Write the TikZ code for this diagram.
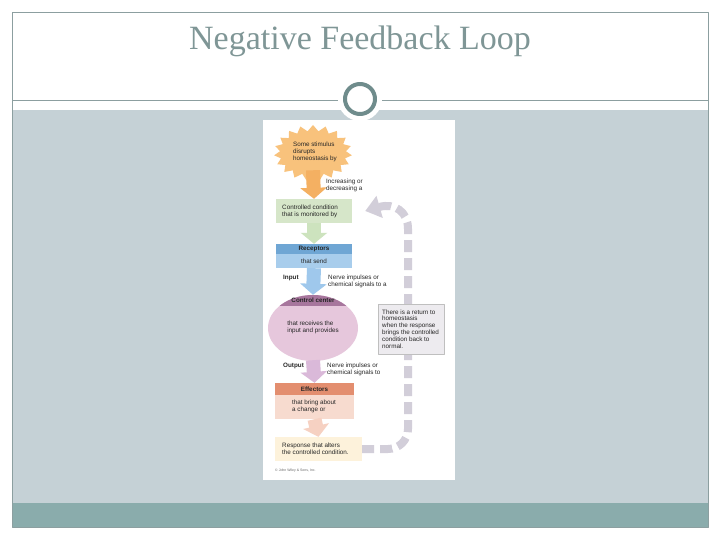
\documentclass[tikz,border=0pt]{standalone}
\usepackage{fontspec}
\setmainfont{Liberation Sans}
\newfontfamily\titlefont{Liberation Serif}
\usetikzlibrary{shapes.symbols,shapes.geometric,arrows.meta}
\definecolor{framec}{HTML}{8C9FA0}
\definecolor{slate}{HTML}{C5D1D6}
\definecolor{band}{HTML}{8AACAC}
\definecolor{ring}{HTML}{6F8C8C}
\definecolor{titlec}{HTML}{7F9696}
\definecolor{starc}{HTML}{F8C27C}
\definecolor{orangea}{HTML}{F4B062}
\definecolor{condc}{HTML}{D6E6C9}
\definecolor{greena}{HTML}{CDE3BE}
\definecolor{recdark}{HTML}{6FA6D4}
\definecolor{reclight}{HTML}{A8CDEC}
\definecolor{bluea}{HTML}{9FC8EC}
\definecolor{ccdark}{HTML}{A7769D}
\definecolor{cclight}{HTML}{E6C7DC}
\definecolor{purplea}{HTML}{DAB9D9}
\definecolor{effdark}{HTML}{E38E6F}
\definecolor{efflight}{HTML}{F7DBCF}
\definecolor{peacha}{HTML}{F6D1C2}
\definecolor{respc}{HTML}{FDF2DB}
\definecolor{loopc}{HTML}{D2CED9}
\definecolor{notec}{HTML}{EDEBEF}
\begin{document}
\begin{tikzpicture}[x=1pt,y=1pt,line join=round,
  txt/.style={font=\fontsize{6.3}{6.9}\selectfont,text=black!85,inner sep=0pt,align=left},
  head/.style={txt,font=\fontsize{6.3}{6.9}\selectfont\bfseries},
  box/.style={rectangle,inner sep=0pt,minimum width=#1},
  banded/.style n args={3}{fill=#2,path picture={\fill[#1] (path picture bounding box.north west) rectangle ([yshift=-#3]path picture bounding box.north east);}},
  flow/.style={draw=#1,line width=14pt,-{Triangle[width=26pt,length=11pt]}},
  feedback/.style={draw=loopc,line width=8pt,dash pattern=on 12pt off 6pt,-{Triangle[width=22pt,length=15pt]}}]
\useasboundingbox (0,0) rectangle (720,-540);
\fill[white] (0,0) rectangle (720,-540);
\fill[slate] (12,-110) rectangle (708,-503);
\fill[band] (12,-503) rectangle (708,-527);
\draw[framec] (12,-12) rectangle (708,-527);
\draw[framec] (12,-100) -- (708,-100);
\fill[white] (360,-99) circle (22);
\draw[ring,line width=4pt] (360,-99) circle (15);
\node[font=\titlefont\fontsize{34}{40}\selectfont,text=titlec] (title) at (360,-41) {Negative Feedback Loop};
\fill[white] (263,-120) rectangle (455,-480);

\node[starburst,starburst points=19,starburst point height=6pt,random starburst=0,fill=starc,minimum width=78pt,minimum height=56pt] (stim) at (313,-153) {};
\node[txt] (stimtxt) at (315,-152) {Some stimulus\\disrupts\\homeostasis by};
\node[box=76pt,fill=condc,minimum height=24pt] (cond) at (314,-211) {};
\node[txt,anchor=west] (condtxt) at (282,-211) {Controlled condition\\that is monitored by};
\node[box=76pt,banded={recdark}{reclight}{10pt},minimum height=24pt] (rec) at (314,-256) {};
\node[head] (rechead) at (314,-249) {Receptors};
\node[txt] (rectxt) at (314,-261) {that send};
\node[ellipse,inner sep=0pt,minimum width=90pt,minimum height=66pt,banded={ccdark}{cclight}{11pt}] (cc) at (313,-328) {};
\node[head] (cchead) at (313,-300.5) {Control center};
\node[txt] (cctxt) at (313,-327.5) {that receives the\\input and provides};
\node[box=79pt,banded={effdark}{efflight}{12pt},minimum height=36pt] (eff) at (314.5,-401) {};
\node[head] (effhead) at (314.5,-389) {Effectors};
\node[txt,anchor=west] (efftxt) at (292,-406) {that bring about\\a change or};
\node[box=87pt,fill=respc,minimum height=24pt] (resp) at (318.5,-449) {};
\node[txt,anchor=west] (resptxt) at (282,-449) {Response that alters\\the controlled condition.};
\node[txt,anchor=west,font=\fontsize{3.5}{4}\selectfont,text=black!60] (copy) at (275,-471) {© John Wiley \& Sons, Inc.};

\draw[flow=orangea] ([yshift=5pt]stim.south) -- (cond.north);
\draw[flow=greena] (cond.south) -- (rec.north);
\draw[flow=bluea] (rec.south) -- (cc.north);
\draw[flow=purplea] ([yshift=1pt]cc.south) -- (eff.north);
\draw[flow=peacha] (eff.south) -- (resp.north);

\node[txt,anchor=west] (incr) at (326,-185) {Increasing or\\decreasing a};
\node[head,anchor=west] (input) at (283,-278) {Input};
\node[txt,anchor=west] (signal) at (328,-281.5) {Nerve impulses or\\chemical signals to a};
\node[head,anchor=west] (output) at (283,-366) {Output};
\node[txt,anchor=west] (signalb) at (327,-369.5) {Nerve impulses or\\chemical signals to};

\coordinate (fbx) at (408,0);
\draw[feedback,rounded corners=20pt] (resp.east) -- (fbx |- resp.east) [rounded corners=30pt] -- (fbx |- cond.north) -- ([xshift=13pt]cond.east);
\node[draw=black!25,fill=notec,inner sep=0pt,minimum width=66pt,minimum height=50pt] (note) at (411,-329) {};
\node[txt,anchor=west] (notetxt) at (382,-329) {There is a return to\\homeostasis\\when the response\\brings the controlled\\condition back to\\normal.};
\end{tikzpicture}
\end{document}
